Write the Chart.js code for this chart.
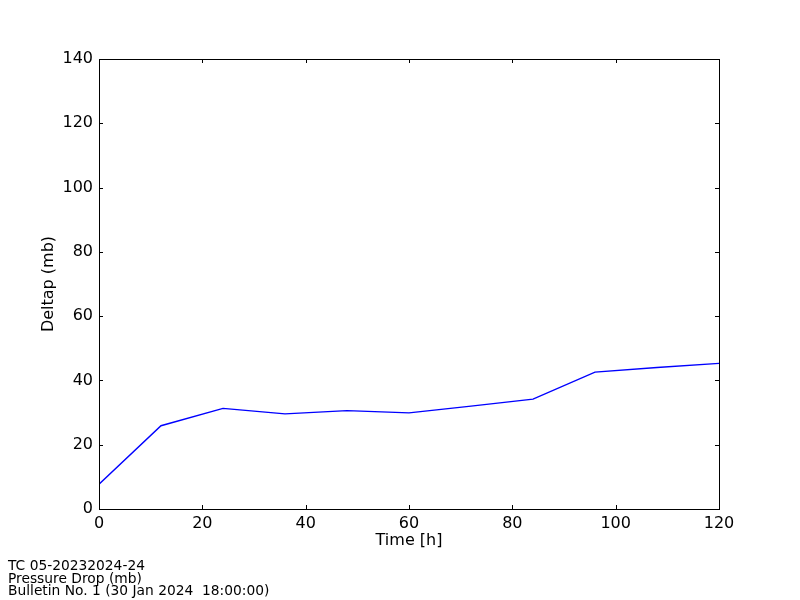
<!DOCTYPE html>
<html>
<head>
<meta charset="utf-8">
<script src="https://cdn.jsdelivr.net/npm/chart.js@4/dist/chart.umd.min.js"></script>
<style>
  html, body { margin: 0; padding: 0; background: #fff; }
  canvas { display: block; }
</style>
</head>
<body>
<canvas id="myChart" width="800" height="600"></canvas>
<script>
// forecast hours and pressure drop values
var hours = [0, 12, 24, 36, 48, 60, 72, 84, 96, 108, 120];
var deltap = [7.7, 25.9, 31.3, 29.6, 30.6, 29.9, 32.0, 34.2, 42.6, 44.0, 45.3];
var xTicks = [0, 20, 40, 60, 80, 100, 120];
var yTicks = [0, 20, 40, 60, 80, 100, 120, 140];
var footerLines = [
  "TC 05-20232024-24",
  "Pressure Drop (mb)",
  "Bulletin No. 1 (30 Jan 2024  18:00:00)"
];

var fontFamily = "'DejaVu Sans', sans-serif";

// box, inward ticks on all four sides, axis titles and footer
var framePlugin = {
  id: "frame",
  afterDraw: function (chart) {
    var ctx = chart.ctx;
    var a = chart.chartArea;
    var sx = chart.scales.x;
    var sy = chart.scales.y;
    ctx.save();
    ctx.strokeStyle = "#000";
    ctx.lineWidth = 1;
    xTicks.forEach(function (v) {
      var px = Math.round(sx.getPixelForValue(v)) + 0.5;
      ctx.beginPath();
      ctx.moveTo(px, a.bottom); ctx.lineTo(px, a.bottom - 4);
      ctx.moveTo(px, a.top); ctx.lineTo(px, a.top + 4);
      ctx.stroke();
    });
    yTicks.forEach(function (v) {
      var py = Math.round(sy.getPixelForValue(v)) + 0.5;
      ctx.beginPath();
      ctx.moveTo(a.left, py); ctx.lineTo(a.left + 4, py);
      ctx.moveTo(a.right, py); ctx.lineTo(a.right - 4, py);
      ctx.stroke();
    });
    ctx.strokeRect(Math.round(a.left) + 0.5, Math.round(a.top) + 0.5,
      Math.round(a.right - a.left), Math.round(a.bottom - a.top));

    ctx.fillStyle = "#000";
    ctx.font = "16px " + fontFamily;
    ctx.textAlign = "center";
    ctx.textBaseline = "middle";
    ctx.fillText("Time [h]", (a.left + a.right) / 2, 541);
    ctx.save();
    ctx.translate(49, (a.top + a.bottom) / 2);
    ctx.rotate(-Math.PI / 2);
    ctx.fillText("Deltap (mb)", 0, 0);
    ctx.restore();

    ctx.font = "13.8px " + fontFamily;
    ctx.textAlign = "left";
    ctx.textBaseline = "alphabetic";
    footerLines.forEach(function (t, i) {
      ctx.fillText(t, 8, 570 + i * 12.5);
    });
    ctx.restore();
  }
};

var ctx = document.getElementById("myChart").getContext("2d");
var myChart = new Chart(ctx, {
  type: "line",
  data: {
    datasets: [
      {
        label: "Deltap (mb)",
        data: hours.map(function (h, i) {
          return { x: h, y: deltap[i] };
        }),
        borderColor: "#0000ff",
        borderWidth: 1.4,
        pointRadius: 0,
        tension: 0,
        fill: false
      }
    ]
  },
  options: {
    responsive: false,
    animation: false,
    layout: { padding: { left: 0, top: 59, right: 81, bottom: 0 } },
    plugins: {
      legend: { display: false },
      tooltip: { enabled: false }
    },
    scales: {
      x: {
        type: "linear",
        min: 0,
        max: 120,
        afterFit: function (s) { s.height = 91; },
        afterBuildTicks: function (s) {
          s.ticks = xTicks.map(function (v) { return { value: v }; });
        },
        grid: { display: false, drawTicks: false },
        border: { display: false },
        ticks: {
          color: "#000",
          padding: 5,
          maxRotation: 0,
          font: { family: fontFamily, size: 16 }
        }
      },
      y: {
        min: 0,
        max: 140,
        afterFit: function (s) { s.width = 99; },
        afterBuildTicks: function (s) {
          s.ticks = yTicks.map(function (v) { return { value: v }; });
        },
        grid: { display: false, drawTicks: false },
        border: { display: false },
        ticks: {
          color: "#000",
          padding: 6,
          font: { family: fontFamily, size: 16 }
        }
      }
    }
  },
  plugins: [framePlugin]
});
</script>
</body>
</html>
